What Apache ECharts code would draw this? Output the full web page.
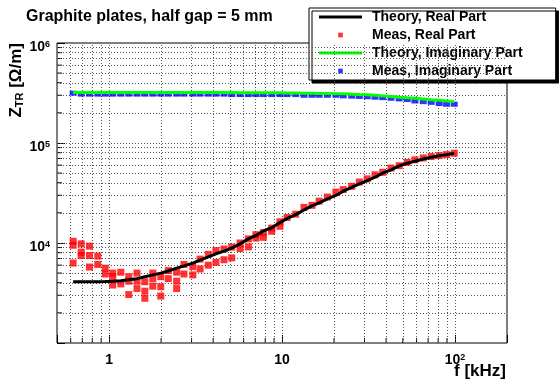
<!DOCTYPE html>
<html>
<head>
<meta charset="utf-8">
<script src="https://cdn.jsdelivr.net/npm/echarts@6.0.0/dist/echarts.min.js"></script>
<style>
  html, body { margin: 0; padding: 0; background: #fff; }
  #chart-container { width: 559px; height: 380px; }
</style>
</head>
<body>
<div id="chart-container"></div>
<script>
// frequencies of the measurement points [kHz]
const freqKHz = [0.62, 0.69, 0.77, 0.86, 0.95, 1.05, 1.17, 1.3, 1.45, 1.61, 1.79, 1.99,
  2.2, 2.46, 2.71, 3.05, 3.36, 3.75, 4.15, 4.62, 5.12, 5.72, 6.39, 7.07, 7.8, 8.72, 9.73,
  10.7, 12.0, 13.4, 14.9, 16.4, 18.3, 20.5, 22.6, 25.3, 28.0, 31.1, 34.5, 38.2, 42.7, 47.6,
  53.0, 58.7, 65.6, 72.9, 81.1, 89.5, 99.1];

// Z_TR [Ohm/m]
const theoryReal = [4100, 4100, 4100, 4100, 4120, 4150, 4200, 4280, 4400, 4600, 4800, 5000,
  5250, 5600, 5900, 6300, 6750, 7250, 7800, 8300, 8900, 9800, 11000, 11900, 13200, 14200, 16000,
  17600, 19200, 21400, 23500, 25200, 27600, 29900, 33000, 36000, 39000, 42000, 45500, 50000, 53800, 59000,
  62700, 65800, 69200, 72000, 74700, 76500, 78500];

const measRealRun1 = [10400, 9800, 9300, 7400, 5600, 5000, 5100, 4600, 5000, 4100, 5000, 4600,
  5300, 5100, 6100, 5800, 6900, 7700, 8400, 8700, 9100, 10000, 11000, 12100, 12700, 14100, 16300,
  18000, 19400, 22700, 23800, 26200, 28800, 32300, 34200, 36900, 40700, 43800, 48100, 50900, 56200, 59300,
  64000, 67800, 70900, 73200, 74900, 76600, 79000];

const measRealRun2 = [9500, 8100, 7500, 6100, 4900, 4600, 3900, 4150, 4150, 3300, 4400, 3650,
  4400, 4150, 4900, 4800, 5500, 6000, 6400, 6800, 7100, 8800, 9150, 11200, 11400, 13100, 14700,
  null, null, null, null, null, null, null, null, null, null, null, null, null, null, null,
  null, null, null, null, null, null, null];

const measRealRun3 = [6300, 7500, 5750, null, null, 3800, null, 3050, 3500, 2800, 3700, 2950,
  null, 3500, null, null, null, null, null, null, null, null, null, null, null, null, null,
  null, null, null, null, null, null, null, null, null, null, null, null, null, null, null,
  null, null, null, null, null, null, null];

const theoryImag = [320000, 320000, 320000, 320000, 320000, 320000, 320000, 320000, 320000, 320000, 320000, 320000,
  320000, 320000, 320000, 320000, 320000, 319500, 319500, 319000, 319000, 318500, 318500, 318000, 318000, 318000, 317500,
  317000, 316000, 315000, 314000, 313000, 312000, 311000, 310000, 308000, 305000, 303000, 300000, 296000, 292000, 287000,
  283000, 280000, 276000, 271000, 267000, 263000, 260000];

const measImag = [315000, 308000, 308000, 308000, 308000, 308000, 308000, 308000, 308000, 308000, 308000, 308000,
  308000, 308000, 308000, 308000, 308000, 308000, 308000, 308000, 305000, 305000, 305000, 305000, 305000, 305000, 305000,
  305000, 305000, 300000, 300000, 300000, 300000, 300000, 296000, 294000, 292000, 290000, 287000, 284000, 280000, 276000,
  272000, 263000, 259000, 255000, 248000, 244000, 244000];

// grid lines and tick labels
const gridX = [0.6, 0.7, 0.8, 0.9, 1, 2, 3, 4, 5, 6, 7, 8, 9, 10, 20, 30, 40, 50, 60, 70, 80, 90, 100];
const gridY = [2000, 3000, 4000, 5000, 6000, 7000, 8000, 9000, 10000,
  20000, 30000, 40000, 50000, 60000, 70000, 80000, 90000, 100000,
  200000, 300000, 400000, 500000, 600000, 700000, 800000, 900000];
const minorTickX = [0.6, 0.7, 0.8, 0.9, 2, 3, 4, 5, 6, 7, 8, 9, 20, 30, 40, 50, 60, 70, 80, 90];
const minorTickY = [2000, 3000, 4000, 5000, 6000, 7000, 8000, 9000,
  20000, 30000, 40000, 50000, 60000, 70000, 80000, 90000,
  200000, 300000, 400000, 500000, 600000, 700000, 800000, 900000];
const xTickValues = [1, 10, 100];
const xTickText = ['{b|1}', '{b|10}', '{b|10}{s|2}'];
const yTickValues = [10000, 100000, 1000000];
const yTickText = ['{b|10}{s|4}', '{b|10}{s|5}', '{b|10}{s|6}'];

const FONT = "'Liberation Sans', Arial, Helvetica, sans-serif";

const pairs = (ys) => freqKHz.map((f, i) => [f, ys[i]]).filter((p) => p[1] != null);
const measRealPts = pairs(measRealRun1).concat(pairs(measRealRun2), pairs(measRealRun3));

const tickData = minorTickX.map((v) => [v, 1000, 0]).concat(minorTickY.map((v) => [0.5, v, 1]));

const labelFor = (values, texts) => (v) => {
  for (let i = 0; i < values.length; i++) {
    if (Math.abs(v / values[i] - 1) < 1e-6) return texts[i];
  }
  return '';
};

const labelRich = {
  b: { fontSize: 14, fontWeight: 'bold', fontFamily: FONT, lineHeight: 14, color: '#000' },
  s: { fontSize: 9, fontWeight: 'bold', fontFamily: FONT, lineHeight: 9, verticalAlign: 'top', color: '#000' },
};

// legend icons (padded so they keep the right size inside the 43x14 item box)
const smallSquare = 'path://M0 0M18 18M6 6L12 6L12 12L6 12Z';
const lineIcon = 'path://M0 0M43 14M0 5.5L43 5.5L43 8.5L0 8.5Z';

let option = {
  animation: false,
  backgroundColor: '#fff',
  title: {
    text: 'Graphite plates, half gap = 5 mm',
    left: 26,
    top: 9,
    padding: 0,
    textStyle: { fontSize: 16, fontWeight: 'bold', fontFamily: FONT, color: '#000' },
  },
  legend: {
    orient: 'vertical',
    left: 309,
    top: 8,
    padding: [0, 33, 0, 10],
    itemWidth: 43,
    itemHeight: 14,
    itemGap: 0,
    selectedMode: false,
    backgroundColor: '#fff',
    borderColor: '#000',
    borderWidth: 1,
    borderRadius: 0,
    shadowColor: '#000',
    shadowBlur: 0,
    shadowOffsetX: 3,
    shadowOffsetY: 3,
    textStyle: {
      fontSize: 14,
      fontWeight: 'bold',
      fontFamily: FONT,
      color: '#000',
      lineHeight: 18,
      padding: [0, 0, 0, 5],
    },
    data: [
      { name: 'Theory, Real Part', icon: lineIcon },
      { name: 'Meas, Real Part', icon: smallSquare },
      { name: 'Theory, Imaginary Part', icon: lineIcon },
      { name: 'Meas, Imaginary Part', icon: smallSquare },
    ],
  },
  grid: {
    left: 57,
    right: 52,
    top: 43,
    bottom: 37,
    show: true,
    borderColor: '#000',
    borderWidth: 1,
    backgroundColor: 'transparent',
    containLabel: false,
    outerBoundsMode: 'none',
  },
  xAxis: {
    type: 'log',
    logBase: 10,
    min: 0.5,
    max: 200,
    axisLine: { show: false },
    splitLine: { show: false },
    axisTick: { inside: true, length: 8, lineStyle: { color: '#000', width: 1 } },
    axisLabel: {
      margin: 10,
      formatter: labelFor(xTickValues, xTickText),
      rich: labelRich,
    },
  },
  yAxis: {
    type: 'log',
    logBase: 10,
    min: 1000,
    max: 1000000,
    axisLine: { show: false },
    splitLine: { show: false },
    axisTick: { inside: true, length: 8, lineStyle: { color: '#000', width: 1 } },
    axisLabel: {
      margin: 7,
      padding: [8, 0, 0, 0],
      formatter: labelFor(yTickValues, yTickText),
      rich: labelRich,
    },
  },
  graphic: [
    {
      type: 'text',
      x: 16,
      y: 43,
      rotation: Math.PI / 2,
      style: {
        text: '{z|Z}{t|TR}{n| [Ω/m]}',
        textAlign: 'right',
        textVerticalAlign: 'middle',
        rich: {
          z: { fontSize: 17, fontWeight: 'bold', fontFamily: FONT, lineHeight: 18, fill: '#000' },
          t: { fontSize: 11, fontWeight: 'bold', fontFamily: FONT, lineHeight: 11, verticalAlign: 'bottom', fill: '#000' },
          n: { fontSize: 17, fontWeight: 'bold', fontFamily: FONT, lineHeight: 18, fill: '#000' },
        },
      },
    },
    {
      type: 'text',
      x: 506,
      y: 371,
      style: {
        text: 'f [kHz]',
        textAlign: 'right',
        textVerticalAlign: 'middle',
        font: 'bold 17px ' + FONT,
        fill: '#000',
      },
    },
  ],
  series: [
    {
      name: 'grid',
      type: 'custom',
      silent: true,
      z: 3,
      data: tickData,
      renderItem: (params, api) => {
        const p = api.coord([api.value(0), api.value(1)]);
        const horiz = api.value(2) === 1;
        return {
          type: 'line',
          shape: horiz
            ? { x1: p[0], y1: p[1], x2: p[0] + 5, y2: p[1] }
            : { x1: p[0], y1: p[1], x2: p[0], y2: p[1] - 5 },
          style: { stroke: '#000', lineWidth: 1 },
        };
      },
      markLine: {
        silent: true,
        symbol: ['none', 'none'],
        label: { show: false },
        lineStyle: { color: '#555', width: 1, type: [1, 2] },
        data: gridX.map((v) => ({ xAxis: v })).concat(gridY.map((v) => ({ yAxis: v }))),
      },
    },
    {
      name: 'Meas, Real Part',
      type: 'scatter',
      symbol: 'rect',
      symbolSize: [7, 7],
      itemStyle: { color: '#ff0000' },
      z: 10,
      data: measRealPts,
    },
    {
      name: 'Meas, Imaginary Part',
      type: 'scatter',
      symbol: 'rect',
      symbolSize: [7, 5],
      itemStyle: { color: '#0000ff' },
      z: 10,
      data: pairs(measImag),
    },
    {
      name: 'Theory, Real Part',
      type: 'line',
      symbol: 'none',
      itemStyle: { color: '#000' },
      lineStyle: { color: '#000', width: 3 },
      z: 11,
      data: pairs(theoryReal),
    },
    {
      name: 'Theory, Imaginary Part',
      type: 'line',
      symbol: 'none',
      itemStyle: { color: '#00ff00' },
      lineStyle: { color: '#00ff00', width: 3 },
      z: 11,
      data: pairs(theoryImag),
    },
  ],
};

const dom = document.getElementById('chart-container');
const myChart = echarts.init(dom, null, { renderer: 'canvas' });
myChart.setOption(option);
</script>
</body>
</html>
